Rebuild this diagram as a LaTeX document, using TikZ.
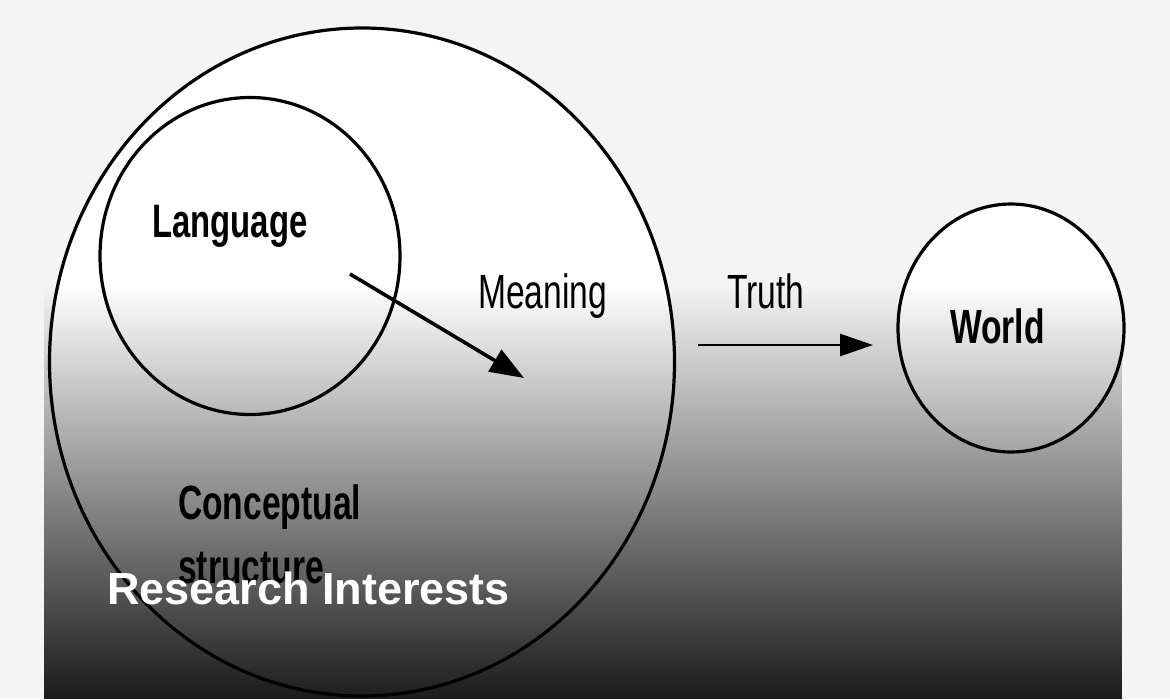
\documentclass[tikz,border=0pt]{standalone}
\usepackage{fontspec}
\usepackage{tikz}
\usetikzlibrary{arrows.meta,shapes.geometric,fadings}
\setmainfont{Liberation Sans}
\newfontfamily\scanfont[FakeStretch=0.7]{Liberation Sans}
\definecolor{pagegray}{HTML}{F4F4F4}
\tikzfading[name=fadedown, top color=transparent!100, bottom color=transparent!11]
\tikzset{
  ring/.style={ellipse, draw, line width=3.2pt, inner sep=0pt},
  scanlabel/.style={anchor=base west, inner sep=0pt, font=\scanfont\fontsize{48}{56}\selectfont},
  bigtip/.style={-{Triangle[length=34pt,width=25pt]}},
}

\begin{document}
\begin{tikzpicture}[x=1pt,y=-1pt]
  \useasboundingbox (0,0) rectangle (1170,699);
  \fill[pagegray] (0,0) rectangle (1170,699);
  % white insides of the circles
  \fill[white] (362,362) ellipse [x radius=312, y radius=334];
  \fill[white] (1011,328) ellipse [x radius=113, y radius=124];
  % dark fade over the lower part
  \fill[black, path fading=fadedown] (45,285) rectangle (1125,699);
  % circles
  \node[ring, minimum width=625pt, minimum height=668pt] (concept) at (362,362) {};
  \node[ring, minimum width=300pt, minimum height=317pt] (language) at (250,256) {};
  \node[ring, minimum width=226pt, minimum height=248pt] (world) at (1011,328) {};
  % labels
  \node[scanlabel, font=\scanfont\bfseries\fontsize{47}{56}\selectfont] (langtext) at (152,237) {Language};
  \node[scanlabel] (meantext) at (478,308) {Meaning};
  \node[scanlabel] (truthtext) at (727,308) {Truth};
  \node[scanlabel, font=\scanfont\bfseries\fontsize{48}{56}\selectfont] (worldtext) at (950,343) {World};
  \node[scanlabel, font=\scanfont\bfseries\fontsize{48}{56}\selectfont] (concepttext) at (178,519) {Conceptual};
  \node[scanlabel, font=\scanfont\bfseries\fontsize{48}{56}\selectfont] (structtext) at (178,583) {structure};
  % arrows
  \coordinate (meanfrom) at (350,274);
  \coordinate (meanto) at (524,378);
  \coordinate (truthfrom) at (698,345);
  \coordinate (truthto) at (873,345);
  \draw[line width=3.6pt, bigtip] (meanfrom) -- (meanto);
  \draw[line width=2.6pt, -{Triangle[length=33pt,width=22pt]}] (truthfrom) -- (truthto);
  % caption
  \node[anchor=base west, inner sep=0pt, text=white, font=\bfseries\fontsize{45}{54}\selectfont] (caption) at (107,604) {Research Interests};
\end{tikzpicture}
\end{document}
